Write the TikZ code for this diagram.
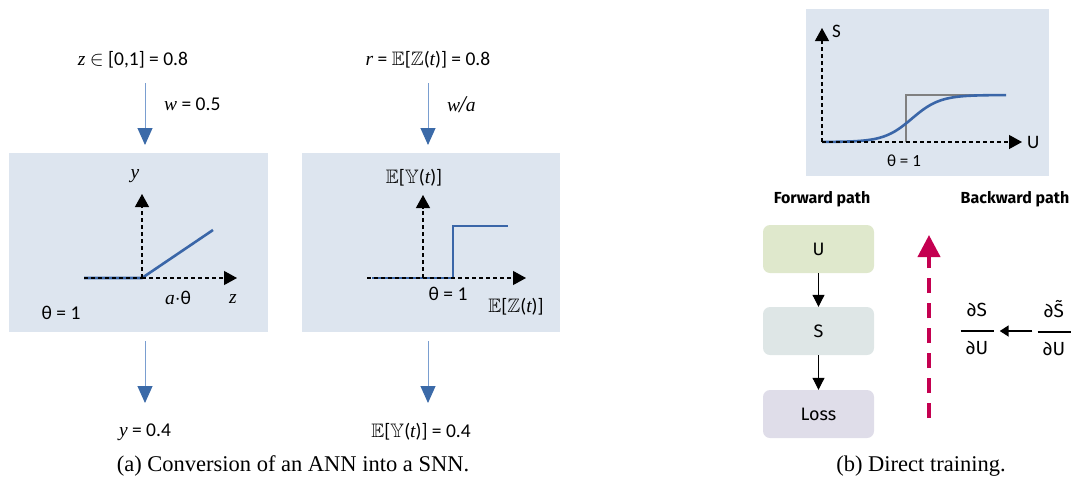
\documentclass[tikz,border=0pt]{standalone}
\usepackage{amssymb}
\usepackage{fontspec}
\setmainfont{Liberation Serif}
\setsansfont{Carlito}
\newfontfamily\ubu{Fira Sans}
\usetikzlibrary{arrows.meta}
\newcommand{\vi}[1]{{\rmfamily\itshape #1}}
\newcommand{\myfrac}[2]{\begin{tabular}{@{}c@{}}#1\\[-5pt]\rule{33pt}{2.6pt}\\[1pt]#2\end{tabular}}
\definecolor{panelbg}{RGB}{221,229,239}
\definecolor{lineblue}{RGB}{122,158,208}
\definecolor{headblue}{RGB}{59,106,168}
\definecolor{curveblue}{RGB}{58,102,168}
\definecolor{ubox}{RGB}{223,232,204}
\definecolor{sbox}{RGB}{222,230,230}
\definecolor{lbox}{RGB}{223,221,233}
\definecolor{crimson}{RGB}{196,0,80}
\tikzset{
  panel/.style={fill=panelbg, draw=none},
  flowarrow/.style={draw=lineblue, line width=1pt, -{Triangle[length=17pt,width=15pt,color=headblue]}},
  axisline/.style={line width=1.2pt, dash pattern=on 4pt off 3pt, -{Triangle[length=13pt,width=14pt]}},
  curveline/.style={draw=curveblue, line width=2.6pt},
  lbl/.style={font=\sffamily\fontsize{19.5}{22}\selectfont, inner sep=1pt},
  captext/.style={font=\rmfamily\fontsize{22.5}{26}\selectfont, inner sep=0pt},
  fbox/.style={rounded corners=7pt, minimum width=111pt, minimum height=48pt, font=\ubu\fontsize{18}{20}\selectfont},
  boldlbl/.style={font=\ubu\bfseries\fontsize{16}{18}\selectfont},
  blk/.style={line width=1pt, -{Triangle[length=12pt,width=12pt]}},
}
\begin{document}
\begin{tikzpicture}[x=1pt,y=-1pt]
\useasboundingbox (0,0) rectangle (1071,488);
% ---------- panel (a) left
\node[lbl] (zin) at (133,60) {\vi{z} $\in$ [0,1] = 0.8};
\coordinate (la1) at (145,83); \coordinate (la2) at (145,145);
\draw[flowarrow] (la1) -- (la2);
\node[lbl, anchor=west] (w1) at (163,104) {\vi{w} = 0.5};
\node[panel, minimum width=259pt, minimum height=179pt, inner sep=0pt] (pa) at (138.5,242.5) {};
\coordinate (o1) at (142,278);
\coordinate (ytop1) at (142,194); \coordinate (xl1) at (84,278); \coordinate (xr1) at (237,278);
\draw[curveline] (xl1) -- (o1) -- (213,230);
\draw[axisline] (o1) -- (ytop1);
\draw[axisline, -] (xl1) -- (o1);
\draw[axisline] (o1) -- (xr1);
\node[lbl] (ylab1) at (135,176) {\vi{y}};
\node[lbl] (ath) at (178,298) {\vi{a}$\cdot$θ};
\node[lbl] (zlab) at (233,299) {\vi{z}};
\node[lbl] (th1) at (61,313) {θ = 1};
\coordinate (lb1) at (145,341); \coordinate (lb2) at (145,403);
\draw[flowarrow] (lb1) -- (lb2);
\node[lbl] (yout) at (145,432) {\vi{y} = 0.4};
% ---------- panel (a) right
\node[lbl] (rin) at (428,60) {\vi{r} = $\mathbb{E}$[$\mathbb{Z}$(\vi{t})] = 0.8};
\coordinate (ra1) at (428,83); \coordinate (ra2) at (428,145);
\draw[flowarrow] (ra1) -- (ra2);
\node[lbl, anchor=west] (wa) at (446,105) {\vi{w}\hspace{-1pt}\raisebox{-1.5pt}{\fontsize{24}{24}\selectfont\vi{/}}\vi{a}};
\node[panel, minimum width=258pt, minimum height=179pt, inner sep=0pt] (pb) at (431,242.5) {};
\coordinate (o2) at (423,278);
\coordinate (ytop2) at (423,195); \coordinate (xl2) at (367,278); \coordinate (xr2) at (526,278);
\draw[curveline] (372,278) -- (453,278) -- (453,226) -- (508,226);
\draw[axisline] (o2) -- (ytop2);
\draw[axisline, -] (xl2) -- (o2);
\draw[axisline] (o2) -- (xr2);
\node[lbl] (eyl) at (414,178) {$\mathbb{E}$[$\mathbb{Y}$(\vi{t})]};
\node[lbl] (th2) at (448,294) {θ = 1};
\node[lbl] (ezl) at (516,307) {$\mathbb{E}$[$\mathbb{Z}$(\vi{t})]};
\coordinate (rb1) at (428,341); \coordinate (rb2) at (428,403);
\draw[flowarrow] (rb1) -- (rb2);
\node[lbl] (eyout) at (421,432) {$\mathbb{E}$[$\mathbb{Y}$(\vi{t})] = 0.4};
\node[captext] (capa) at (293,466) {(a) Conversion of an ANN into a SNN.};
% ---------- panel (b)
\node[panel, minimum width=243pt, minimum height=167pt, inner sep=0pt] (pc) at (927.5,92.5) {};
\coordinate (o3) at (822,142); \coordinate (ytop3) at (822,28); \coordinate (xr3) at (1022,142);
\draw[gray, line width=1.2pt] (906,142) -- (906,95) -- (1004,95);
\draw[curveline] plot[domain=822:1006, samples=80] (\x,{142-47/(1+exp(-(\x-912)/14))});
\draw[axisline] (o3) -- (ytop3);
\draw[axisline] (o3) -- (xr3);
\node[lbl, font=\sffamily\fontsize{19}{20}\selectfont, anchor=west] (slab) at (831,31) {S};
\node[lbl, font=\sffamily\fontsize{19}{20}\selectfont, anchor=west] (ulab) at (1026,142) {U};
\node[lbl, font=\sffamily\fontsize{17}{18}\selectfont] (th3) at (904,161) {θ = 1};
\node[boldlbl] (fwd) at (822,199) {Forward path};
\node[boldlbl] (bwd) at (1015,199) {Backward path};
\node[fbox, fill=ubox] (U) at (818.5,249) {U};
\node[fbox, fill=sbox] (S) at (818.5,331) {S};
\node[fbox, fill=lbox] (L) at (818.5,414) {Loss};
\draw[blk] (U) -- (S);
\draw[blk] (S) -- (L);
\coordinate (bk1) at (929,418); \coordinate (bk2) at (929,235);
\draw[crimson, line width=4pt, dash pattern=on 15pt off 10pt, -{Triangle[length=22pt,width=22pt]}] (bk1) -- (bk2);
\node[font=\ubu\fontsize{19}{21}\selectfont, inner sep=0pt] (d1) at (977,331) {\myfrac{∂S}{∂U}};
\node[font=\ubu\fontsize{19}{21}\selectfont, inner sep=0pt] (d2) at (1054,331) {\myfrac{∂\~S}{∂U}};
\draw[line width=1.8pt, shorten <=5pt, shorten >=6pt, -{Triangle[length=9pt,width=11pt]}] (d2) -- (d1);
\node[captext] (capb) at (921,466) {(b) Direct training.};
\end{tikzpicture}
\end{document}
